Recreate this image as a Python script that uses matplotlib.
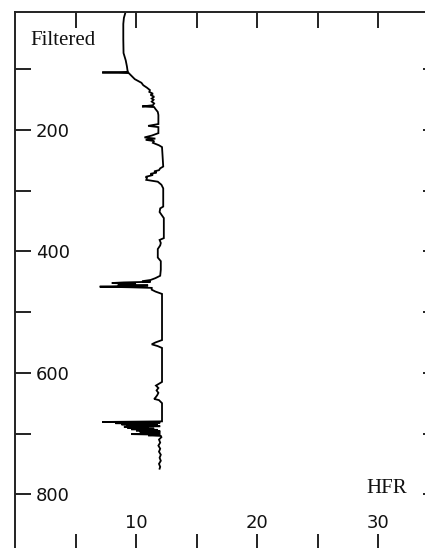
import matplotlib
matplotlib.use("Agg")
import matplotlib.pyplot as plt
from matplotlib.ticker import FixedLocator, NullFormatter

# Depth (m) and filtered HFR values
depth = [8, 15, 25, 50, 73, 85, 95, 102, 104, 105, 106, 110, 116, 122, 126, 130,
         134, 137, 140, 142, 145, 148, 150, 153, 156, 159, 161, 162, 165, 170,
         175, 190, 193, 195, 205, 209, 212, 214, 216, 218, 221, 225, 228, 245,
         260, 263, 266, 268, 270, 272, 274, 277, 279, 282, 285, 290, 296, 326,
         329, 335, 345, 360, 378, 381, 386, 390, 396, 402, 410, 416, 430, 440,
         444, 447, 449, 450, 451, 452, 453, 454, 455, 456, 457, 458, 459, 460,
         463, 466, 470, 520, 546, 550, 553, 556, 559, 590, 615, 618, 621, 625,
         629, 633, 637, 641, 643, 645, 650, 680, 681, 682, 683, 684, 685, 686,
         687, 688, 689, 690, 691, 692, 693, 694, 695, 696, 697, 698, 699, 700,
         701, 702, 703, 704, 706, 710, 715, 720, 725, 730, 735, 740, 745, 750,
         755, 758]
hfr = [9.1, 9.0, 8.95, 8.95, 8.97, 9.15, 9.25, 9.3, 9.35, 7.2, 9.4, 9.6, 9.9,
       10.45, 10.6, 10.9, 11.15, 11.1, 11.4, 11.2, 11.5, 11.3, 11.45, 11.3, 11.5,
       11.4, 10.5, 11.5, 11.6, 11.8, 11.85, 11.85, 11.0, 11.85, 11.85, 11.3,
       10.7, 11.6, 10.8, 11.5, 11.4, 11.9, 12.15, 12.2, 12.25, 12.0, 11.9, 11.5,
       11.7, 11.2, 11.4, 10.8, 10.9, 10.85, 11.8, 12.1, 12.25, 12.25, 12.0,
       11.95, 12.3, 12.3, 12.3, 11.95, 12.05, 12.0, 11.8, 11.8, 11.8, 12.05,
       12.05, 12.0, 11.6, 11.2, 10.5, 11.2, 9.0, 8.0, 9.5, 10.0, 8.5, 11.0, 9.0,
       7.0, 9.5, 11.3, 11.3, 11.6, 12.15, 12.15, 12.15, 11.6, 11.3, 11.8, 12.15,
       12.15, 12.15, 11.9, 11.65, 11.85, 11.7, 11.85, 11.75, 11.6, 11.5, 11.9,
       12.15, 12.15, 7.2, 12.0, 8.3, 11.5, 8.8, 11.8, 9.2, 12.0, 9.0, 11.0, 9.3,
       11.5, 9.6, 11.8, 10.0, 12.0, 10.3, 12.0, 10.6, 12.0, 9.6, 12.0, 11.0,
       12.05, 12.1, 11.9, 12.0, 11.85, 12.0, 11.9, 12.05, 11.95, 12.05, 11.9,
       12.0, 11.95]

y_labeled_ticks = [200, 400, 600, 800]
y_minor_ticks = [100, 300, 500, 700]
x_labeled_ticks = [10, 20, 30]
x_minor_ticks = [5, 15, 25]

fig = plt.figure(figsize=(4.25, 5.48), dpi=100)
fig.patch.set_facecolor("white")
ax = fig.add_axes([15 / 425, -2 / 548, 423.5 / 425, 538.2 / 548])

ax.plot(hfr, depth, color="black", lw=1.3, solid_joinstyle="miter")

ax.set_xlim(0, 35)
ax.set_ylim(892, 5)

spine_col = "#222222"
for s in ax.spines.values():
    s.set_linewidth(1.4)
    s.set_color(spine_col)

ax.xaxis.set_major_locator(FixedLocator(x_labeled_ticks))
ax.xaxis.set_minor_locator(FixedLocator(x_minor_ticks))
ax.yaxis.set_major_locator(FixedLocator(y_labeled_ticks))
ax.yaxis.set_minor_locator(FixedLocator(y_minor_ticks))
ax.xaxis.set_minor_formatter(NullFormatter())
ax.yaxis.set_minor_formatter(NullFormatter())

tick_len = 11.5
ax.tick_params(axis="both", which="both", direction="in", length=tick_len,
               width=1.4, color=spine_col, top=True, right=True,
               labelsize=13, labelcolor="#111111")
ax.tick_params(axis="y", which="major", pad=-15)
ax.tick_params(axis="x", which="major", pad=-26)
for lbl in ax.get_yticklabels():
    lbl.set_horizontalalignment("left")

ax.text(1.25, 53, "Filtered", family="Liberation Serif", fontsize=15,
        ha="left", va="center", color="#111111")
ax.text(30.7, 790, "HFR", family="Liberation Serif", fontsize=15,
        ha="center", va="center", color="#111111")

fig.savefig("out.png", dpi=100, facecolor="white")
